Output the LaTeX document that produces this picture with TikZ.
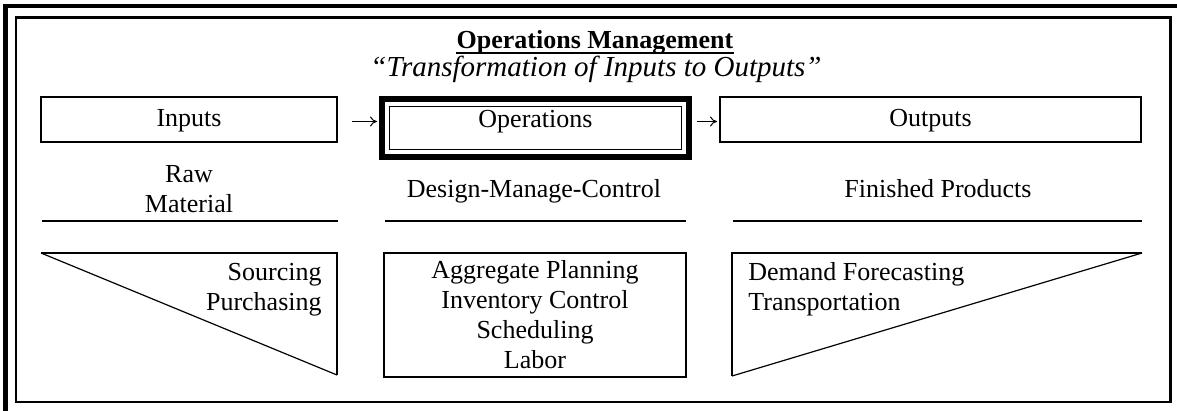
\documentclass[tikz,border=0pt]{standalone}
\usepackage{fontspec}
\setmainfont{Liberation Serif}
\usepackage{tikz}
\usetikzlibrary{fit}
\usetikzlibrary{positioning}
\usetikzlibrary{arrows.meta}
\tikzstyle{stage}=[rectangle, draw=black, line width=1pt,
  minimum height=22.5pt, inner sep=0pt, text height=0.66em, text depth=0pt]
\tikzstyle{core}=[stage, line width=0.6pt, text depth=0.66em]
\tikzstyle{coreframe}=[rectangle, draw=black, line width=3pt, inner sep=3.45pt]
\tikzstyle{task}=[rectangle, draw=black, line width=1pt, inner sep=0pt,
  align=center]
\tikzstyle{note}=[inner sep=0pt]
\tikzstyle{flow}=[-{To[length=3.5pt,width=5pt]}, line width=0.5pt]
\tikzstyle{rule}=[line width=1pt]
\tikzstyle{wedge}=[line width=1pt, line join=miter]
\tikzstyle{slant}=[line width=0.6pt]

\begin{document}
\begin{tikzpicture}[x=0.5pt, y=-0.5pt,
  every node/.style={font=\fontsize{13pt}{15pt}\selectfont}]

\useasboundingbox (0,0) rectangle (1177,411);

% page border
\draw[line width=2pt] (3,6) -- (1177,6);
\draw[line width=2.5pt] (5.5,4) -- (5.5,411);
\draw[line width=1.1pt] (16,17.5) rectangle (1170.5,402);

\node[note, anchor=base] (title) at (595,49)
  {\textbf{Operations Management}};
\draw[line width=0.8pt] ([yshift=-2pt]title.base west) -- ([yshift=-2pt]title.base east);
\node[note, anchor=base, font=\fontsize{14.5pt}{15pt}\selectfont] (motto) at (596,77)
  {\textit{“Transformation of Inputs to Outputs”}};

% top row
\node[stage, minimum width=148pt] (inputs) at (189,119.5) {Inputs};
\node[core, minimum width=146pt, minimum height=21.5pt] (ops) at (535.5,128) {Operations};
\node[coreframe, fit=(ops)] (opsframe) {};
\node[stage, minimum width=210.5pt] (outputs) at (930.5,119.5) {Outputs};

\draw[flow, shorten <=7pt, shorten >=1pt]
  ([yshift=-1pt]inputs.east) -- ([yshift=-1pt]inputs.east -| opsframe.west);
\draw[flow, shorten <=2.5pt, shorten >=1pt]
  ([yshift=-1pt]inputs.east -| opsframe.east) -- ([yshift=-1pt]outputs.west);

% what flows
\node[note, align=center] (rawmat) at (189,189) {Raw\\Material};
\node[note, anchor=base] (dmc) at (534,198) {Design-Manage-Control};
\node[note, anchor=base] (finished) at (938,198) {Finished Products};

\draw[rule] (42,221) -- (338,221);
\draw[rule] (385,221) -- (686,221);
\draw[rule] (733,221) -- (1142,221);

% supply side
\draw[wedge] (41,253) -- (337,253) -- (337,375);
\draw[slant] (41,253) -- (337,375);
\node[note, align=right, anchor=north east] (supply) at (322,262.5)
  {Sourcing\\Purchasing};

% planning
\node[task, minimum width=151pt, minimum height=62pt] (plan) at (535,315)
  {Aggregate Planning\\Inventory Control\\Scheduling\\Labor};

% demand side
\draw[wedge] (1142,253) -- (732,253) -- (732,376);
\draw[slant] (732,376) -- (1142,253);
\node[note, align=left, anchor=north west] (demand) at (748,262)
  {Demand Forecasting\\Transportation};

\end{tikzpicture}
\end{document}
